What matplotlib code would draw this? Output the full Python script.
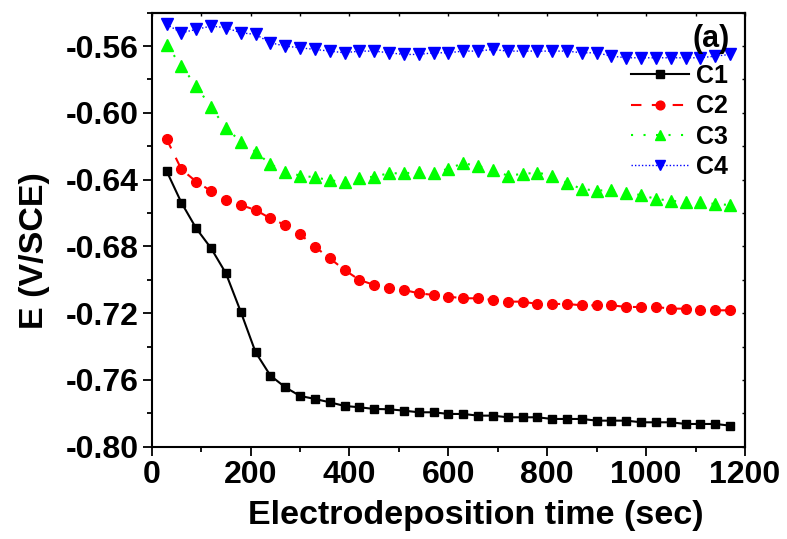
import matplotlib
matplotlib.use("Agg")
import matplotlib.pyplot as plt
from matplotlib.ticker import MultipleLocator

plt.rcParams['font.family'] = ['Liberation Sans', 'DejaVu Sans']
plt.rcParams['font.weight'] = 'bold'

time = [30, 60, 90, 120, 150, 180, 210, 240, 270, 300, 330, 360, 390, 420, 450,
        480, 510, 540, 570, 600, 630, 660, 690, 720, 750, 780, 810, 840, 870, 900,
        930, 960, 990, 1020, 1050, 1080, 1110, 1140, 1170]

c1 = [-0.6348, -0.6538, -0.6692, -0.6811, -0.6961, -0.7191, -0.7434, -0.7574, -0.7644, -0.7696,
      -0.7714, -0.7734, -0.7756, -0.7764, -0.7774, -0.7776, -0.7784, -0.7794, -0.7794, -0.7804,
      -0.7804, -0.7814, -0.7814, -0.7824, -0.7824, -0.7824, -0.7834, -0.7834, -0.7834, -0.7844,
      -0.7844, -0.7844, -0.7854, -0.7854, -0.7854, -0.7864, -0.7864, -0.7864, -0.7874]

c2 = [-0.6157, -0.6338, -0.6412, -0.6468, -0.6522, -0.6552, -0.6582, -0.6632, -0.6672, -0.6727,
      -0.6802, -0.6871, -0.6941, -0.7001, -0.7031, -0.7051, -0.7061, -0.7081, -0.7091, -0.7101,
      -0.7111, -0.7111, -0.7121, -0.7131, -0.7131, -0.7145, -0.7145, -0.7145, -0.7153, -0.7153,
      -0.7153, -0.7163, -0.7163, -0.7163, -0.7173, -0.7173, -0.7183, -0.7183, -0.7183]

c3 = [-0.5593, -0.5719, -0.5839, -0.5967, -0.6089, -0.6173, -0.6233, -0.6308, -0.6352, -0.6376,
      -0.6386, -0.6404, -0.6414, -0.6392, -0.6382, -0.6362, -0.6362, -0.6356, -0.6362, -0.6334,
      -0.6302, -0.6318, -0.6342, -0.6376, -0.6366, -0.6358, -0.6376, -0.6420, -0.6456, -0.6466,
      -0.6462, -0.6482, -0.6492, -0.6516, -0.6526, -0.6536, -0.6536, -0.6546, -0.6552]

c4 = [-0.5470, -0.5520, -0.5500, -0.5480, -0.5490, -0.5520, -0.5530, -0.5580, -0.5600, -0.5610,
      -0.5620, -0.5630, -0.5640, -0.5630, -0.5630, -0.5640, -0.5650, -0.5650, -0.5640, -0.5640,
      -0.5630, -0.5630, -0.5620, -0.5630, -0.5630, -0.5630, -0.5630, -0.5630, -0.5640, -0.5640,
      -0.5660, -0.5670, -0.5670, -0.5670, -0.5670, -0.5670, -0.5670, -0.5660, -0.5650]

labels = ['C1', 'C2', 'C3', 'C4']

fig = plt.figure(figsize=(7.87, 5.39), dpi=100)
ax = fig.add_axes([0.1928, 0.1713, 0.9466 - 0.1928, 0.9764 - 0.1713])

ax.plot(time, c1, color='black', lw=1.5, ls='-', marker='s', ms=6,
        mec='black', label=labels[0])
ax.plot(time, c2, color='red', lw=1.5, ls=(0, (5, 5)), marker='o', ms=7,
        mec='red', label=labels[1])
ax.plot(time, c3, color='#00ff00', lw=1.5, ls=(0, (1, 5)), marker='^', ms=8,
        mec='#00ff00', label=labels[2])
ax.plot(time, c4, color='#0000ff', lw=1.0, ls=(0, (1, 1.5)), marker='v', ms=8,
        mec='#0000ff', label=labels[3])

ax.set_xlim(0, 1200)
ax.set_ylim(-0.80, -0.54)
ax.xaxis.set_major_locator(MultipleLocator(200))
ax.xaxis.set_minor_locator(MultipleLocator(100))
ax.yaxis.set_major_locator(MultipleLocator(0.04))
ax.yaxis.set_minor_locator(MultipleLocator(0.02))
ax.yaxis.set_major_formatter(plt.FuncFormatter(lambda v, p: f"{v:.2f}"))

for s in ax.spines.values():
    s.set_linewidth(1.5)

ax.tick_params(which='major', direction='out', length=6.5, width=1.3,
               labelsize=23, pad=3)
ax.tick_params(which='minor', direction='out', length=3.5, width=1.3)
ax.tick_params(which='both', top=False, right=False)

# small inward ticks on top/right
sec_x = ax.secondary_xaxis('top')
sec_x.xaxis.set_major_locator(MultipleLocator(100))
sec_x.tick_params(direction='in', length=2.5, width=1, labeltop=False)
sec_x.spines['top'].set_linewidth(1.5)
sec_y = ax.secondary_yaxis('right')
sec_y.yaxis.set_major_locator(MultipleLocator(0.02))
sec_y.tick_params(direction='in', length=2.5, width=1, labelright=False)
sec_y.spines['right'].set_linewidth(1.5)

ax.set_xlabel('Electrodeposition time (sec)', fontsize=24.5, fontweight='bold')
ax.set_ylabel('E (V/SCE)', fontsize=24.5, fontweight='bold')
ax.xaxis.set_label_coords(0.5466, -0.122)
ax.yaxis.set_label_coords(-0.172, 0.452)

ax.text(0.975, 0.975, '(a)', transform=ax.transAxes, ha='right', va='top',
        fontsize=22, fontweight='bold')

leg = ax.legend(loc='upper left', bbox_to_anchor=(631 / 787, 1 - 64 / 539),
                bbox_transform=fig.transFigure, frameon=False, fontsize=18,
                handlelength=2.3, handletextpad=0.3, labelspacing=0.25,
                borderpad=0, borderaxespad=0, markerscale=0.9)

fig.savefig('out.png', dpi=100)
